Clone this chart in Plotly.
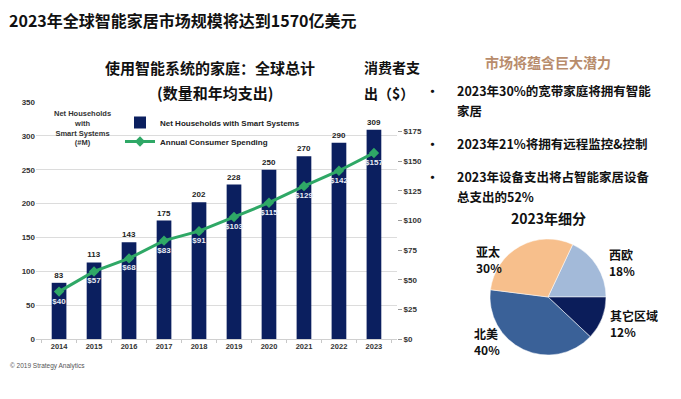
import plotly.graph_objects as go

W, H = 681, 399

years = ["2014", "2015", "2016", "2017", "2018", "2019", "2020", "2021", "2022", "2023"]
households = [83, 113, 143, 175, 202, 228, 250, 270, 290, 309]
spending = [40, 57, 68, 83, 91, 103, 115, 129, 142, 157]
left_ticks = [0, 50, 100, 150, 200, 250, 300, 350]
right_ticks = [0, 25, 50, 75, 100, 125, 150, 175]

pie_labels = ["西欧", "其它区域", "北美", "亚太"]
pie_values = [18, 12, 40, 30]

bullets = [
    "2023年30%的宽带家庭将拥有智能<br>家居",
    "2023年21%将拥有远程监控&控制",
    "2023年设备支出将占智能家居设备<br>总支出的52%",
]

CJK = "Noto Sans CJK SC"
LAT = "Liberation Sans"
NAVY = "#0b1f5f"
GREEN = "#2fa866"


def px(x):
    return x / W


def py(y):
    return 1 - y / H


fig = go.Figure()

fig.add_trace(go.Bar(
    x=years, y=households, name="Net Households with Smart Systems",
    marker=dict(color=NAVY, line=dict(width=0)), width=0.42,
    text=[str(v) for v in households], textposition="outside",
    textfont=dict(family=LAT, size=8, color="#222", weight="bold"),
    cliponaxis=False, yaxis="y",
))
fig.add_trace(go.Scatter(
    x=years, y=spending, name="Annual Consumer Spending", yaxis="y2",
    mode="lines+markers+text",
    line=dict(color=GREEN, width=3),
    marker=dict(symbol="diamond", size=8, color=GREEN),
    text=["$" + str(v) for v in spending], textposition="bottom center",
    textfont=dict(family=LAT, size=8, color="#e8ecf5", weight="bold"),
    cliponaxis=False,
))

fig.add_trace(go.Pie(
    labels=pie_labels, values=pie_values, sort=False, direction="clockwise",
    rotation=25.2, textinfo="none", hoverinfo="label+percent",
    marker=dict(colors=["#a3bad9", "#0b1d5a", "#3a6198", "#f7bf8c"],
                line=dict(color="#ffffff", width=0.5)),
    domain=dict(x=[px(490), px(606)], y=[py(355), py(239)]),
    showlegend=False,
))

annotations = []


def ann(text, x, y, size, color="#111", xanchor="center", bold=True, family=CJK, align="center", yanchor="middle"):
    annotations.append(dict(
        text=("<b>%s</b>" % text) if bold else text,
        x=px(x), y=py(y), xref="paper", yref="paper",
        xanchor=xanchor, yanchor=yanchor, showarrow=False, align=align,
        font=dict(family=family, size=size, color=color),
    ))


ann("2023年全球智能家居市场规模将达到1570亿美元", 7, 20, 16, xanchor="left")
ann("使用智能系统的家庭：全球总计", 210, 67, 15)
ann("(数量和年均支出)", 215, 93, 15)
ann("消费者支", 362, 67, 14, xanchor="left")
ann("出（$）", 362, 93, 14, xanchor="left")
ann("Net Households<br>with<br>Smart Systems<br>(#M)", 82, 128, 7.5, color="#333", family=LAT)
ann("© 2019 Strategy Analytics", 8, 366, 6.5, color="#555", family=LAT, xanchor="left", bold=False)
ann("市场将蕴含巨大潜力", 548, 62, 14, color="#b88c6c")

bullet_top = [90, 143, 177]
for t, y0 in zip(bullets, bullet_top):
    ann("•", 433, y0, 13, xanchor="center")
    for i, line in enumerate(t.split("<br>")):
        ann(line, 455, y0 + 20 * i, 12.5, xanchor="left")

ann("2023年细分", 548, 218, 14)

label_pos = [(607, 262), (608, 323), (472, 341), (474, 259)]
for lab, val, (lx, ly) in zip(pie_labels, pie_values, label_pos):
    ann("%s<br>%d%%" % (lab, val), lx, ly, 12, xanchor="left", align="left")

fig.update_layout(
    width=W, height=H,
    margin=dict(l=0, r=0, t=0, b=0, autoexpand=False),
    paper_bgcolor="white", plot_bgcolor="white",
    bargap=0.6,
    xaxis=dict(
        domain=[px(36), px(397)], type="category", automargin=False,
        tickfont=dict(family=LAT, size=7.5, color="#333", weight="bold"),
        showgrid=False, showline=True, linecolor="#d0d0d0", linewidth=1,
        ticks="outside", tickson="boundaries", ticklen=3, tickcolor="#c8c8c8",
        fixedrange=True,
    ),
    yaxis=dict(
        domain=[py(339), py(102)], range=[0, 350], automargin=False,
        tickvals=left_ticks,
        tickfont=dict(family=LAT, size=8, color="#333", weight="bold"),
        showgrid=True, gridcolor="#dcdcdc", gridwidth=1,
        zeroline=False, showline=False, ticks="",
    ),
    yaxis2=dict(
        overlaying="y", side="right", range=[0, 200], automargin=False,
        tickvals=right_ticks, ticktext=["$" + str(v) for v in right_ticks],
        tickfont=dict(family=LAT, size=8, color="#333", weight="bold"),
        showgrid=False, zeroline=False, showline=False,
        ticks="outside", ticklen=4, tickcolor="#999",
    ),
    legend=dict(
        x=px(120), y=py(108), xanchor="left", yanchor="top",
        bgcolor="rgba(255,255,255,0)", tracegroupgap=0,
        font=dict(family=LAT, size=8, color="#222", weight="bold"),
        itemwidth=30,
    ),
    annotations=annotations,
)

fig.write_html("out.html", config={"displayModeBar": False},
               post_script="document.body.style.margin='0';")
